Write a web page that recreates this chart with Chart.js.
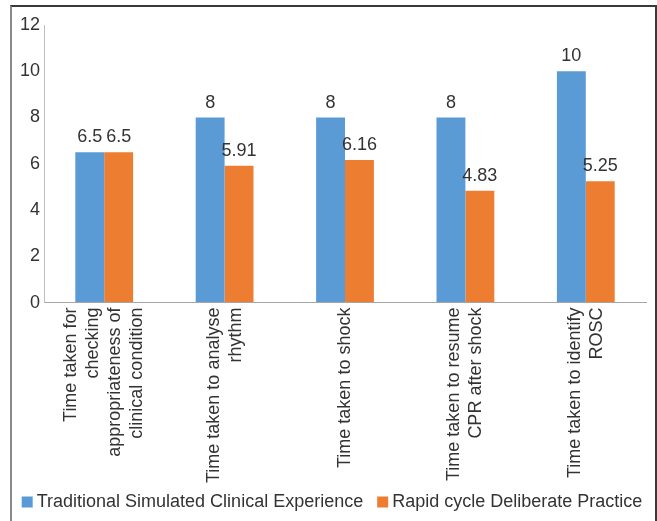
<!DOCTYPE html>
<html>
<head>
<meta charset="utf-8">
<script src="https://cdn.jsdelivr.net/npm/chart.js@4/dist/chart.umd.min.js"></script>
<style>
  html, body { margin: 0; padding: 0; background: #fff; }
  #wrap { position: relative; width: 657px; height: 521px; }
  #frame { position: absolute; left: 10px; top: 5px; width: 643px; height: 530px;
           border-top: 2px solid #3a3a3a; border-left: 2px solid #8a8a8a; border-right: 2px solid #3a3a3a;
           pointer-events: none; }
  canvas { position: absolute; left: 0; top: 0; }
</style>
</head>
<body>
<div id="wrap">
  <canvas id="c" width="657" height="521"></canvas>
  <div id="frame"></div>
</div>
<script>
const categories = [
  ["Time taken for", "checking", "appropriateness of", "clinical condition"],
  ["Time taken to analyse", "rhythm"],
  "Time taken to shock",
  ["Time taken to resume", "CPR after shock"],
  ["Time taken to identify", "ROSC"]
];
const seriesNames = ["Traditional Simulated Clinical Experience", "Rapid cycle Deliberate Practice"];
const traditionalValues = [6.5, 8, 8, 8, 10];
const rapidValues = [6.5, 5.91, 6.16, 4.83, 5.25];
const yTicks = [0, 2, 4, 6, 8, 10, 12];

const FONT = "'Liberation Sans', Arial, sans-serif";
const AXIS_OVERLAP = 14;

const valueLabels = {
  id: 'valueLabels',
  afterDatasetsDraw(chart) {
    const ctx = chart.ctx;
    ctx.save();
    ctx.font = "18px " + FONT;
    ctx.fillStyle = "#333333";
    ctx.textAlign = "center";
    ctx.textBaseline = "alphabetic";
    chart.data.datasets.forEach((ds, i) => {
      const meta = chart.getDatasetMeta(i);
      meta.data.forEach((el, j) => {
        ctx.fillText(String(ds.data[j]), el.x, el.y - 10);
      });
    });
    ctx.restore();
  }
};

// center multi-line rotated category labels on their tick, let the x axis overlap the legend band, nudge the legend
const layoutTweaks = {
  id: 'layoutTweaks',
  afterLayout(chart) {
    if (chart.legend) { chart.legend.left += 6; chart.legend.right += 6; }
    const xs = chart.scales.x;
    xs.bottom += AXIS_OVERLAP;
    xs.height += AXIS_OVERLAP;
  },
  beforeDraw(chart) {
    const xs = chart.scales.x;
    const items = xs.getLabelItems(chart.chartArea);
    items.forEach(it => {
      if (it._centered) return;
      const n = Array.isArray(it.label) ? it.label.length : 1;
      const lh = it.font.lineHeight;
      const tr = (it.options && it.options.translation) || it.translation;
      if (tr) tr[0] -= (n - 1) * lh / 2;
      it._centered = true;
    });
  }
};

new Chart(document.getElementById('c'), {
  type: 'bar',
  data: {
    labels: categories,
    datasets: [
      { label: seriesNames[0], data: traditionalValues, backgroundColor: '#5B9BD5' },
      { label: seriesNames[1], data: rapidValues, backgroundColor: '#ED7D31' }
    ]
  },
  options: {
    responsive: false,
    animation: false,
    devicePixelRatio: 1,
    layout: { padding: { top: 25, right: 0, left: 0, bottom: 0 } },
    datasets: { bar: { categoryPercentage: 0.48, barPercentage: 1.0 } },
    scales: {
      x: {
        afterFit(axis) { axis.height -= AXIS_OVERLAP; },
        grid: { display: true, color: 'rgba(0,0,0,0)', drawTicks: false },
        border: { display: true, color: '#a6a6a6', width: 1 },
        ticks: {
          color: '#333333',
          font: { family: FONT, size: 18, lineHeight: 1.22 },
          minRotation: 90, maxRotation: 90,
          autoSkip: false,
          padding: 5
        }
      },
      y: {
        min: 0, max: 12,
        afterBuildTicks(axis) { axis.ticks = yTicks.map(v => ({ value: v })); },
        afterFit(axis) { axis.width = 44; },
        grid: { display: true, color: 'rgba(0,0,0,0)', drawTicks: false },
        border: { display: true, color: '#bfbfbf', width: 1 },
        ticks: {
          color: '#333333',
          font: { family: FONT, size: 18 },
          padding: 4
        }
      },
      yR: {
        type: 'linear',
        position: 'right',
        min: 0, max: 1,
        afterFit(axis) { axis.width = 11; },
        grid: { display: false },
        border: { display: false },
        ticks: { display: false }
      }
    },
    plugins: {
      legend: {
        position: 'bottom',
        labels: {
          color: '#333333',
          font: { family: FONT, size: 18 },
          usePointStyle: true,
          pointStyle: 'rect',
          boxWidth: 1,
          boxHeight: 11,
          padding: 19
        }
      },
      tooltip: { enabled: false },
      title: { display: false }
    }
  },
  plugins: [valueLabels, layoutTweaks]
});
</script>
</body>
</html>
